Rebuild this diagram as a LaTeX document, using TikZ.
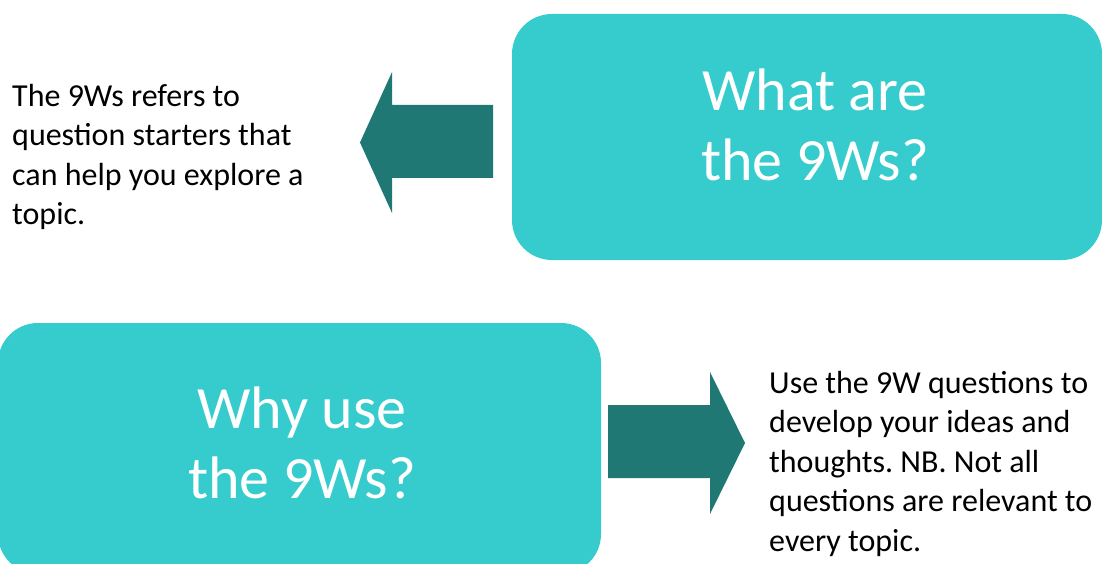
\documentclass[tikz,border=0pt]{standalone}
\usepackage{fontspec}
\setmainfont{Carlito}
\frenchspacing
\definecolor{boxcol}{RGB}{54,203,204}
\definecolor{arrcol}{RGB}{31,120,116}
\tikzset{
  qbox/.style={fill=boxcol, rounded corners=40pt},
  qtitle/.style={text=white, align=center, font=\fontsize{60}{70}\selectfont, inner sep=0pt},
  body/.style={text=black, align=left, font=\fontsize{32}{39.5}\selectfont, inner sep=0pt, anchor=north west},
  bigarrow/.style={fill=arrcol}
}
\begin{document}
\begin{tikzpicture}[x=1pt,y=-1pt]
\useasboundingbox (0,0) rectangle (1102,564);
\begin{scope}
\clip (0,0) rectangle (1102,564);
\fill[qbox] (512,14) rectangle (1102,260);
\fill[qbox] (-2,323) rectangle (601,574);
\end{scope}
\node[qtitle] (what) at (815,125) {What are\\the 9Ws?};
\node[qtitle] (why) at (302,443) {Why use\\the 9Ws?};
% left arrow
\fill[bigarrow] (493,105) -- (392,105) -- (392,72) -- (360,142.5) -- (392,213) -- (392,178) -- (493,178) -- cycle;
% right arrow
\fill[bigarrow] (608,405) -- (710,405) -- (710,372) -- (745,443) -- (710,514) -- (710,478) -- (608,478) -- cycle;
\node[body] (def) at (12,84) {The 9Ws refers to\\question starters that\\can help you explore a\\topic.};
\node[body] (use) at (769,371) {Use the 9W questions to\\develop your ideas and\\thoughts. NB. Not all\\questions are relevant to\\every topic.};
\end{tikzpicture}
\end{document}
